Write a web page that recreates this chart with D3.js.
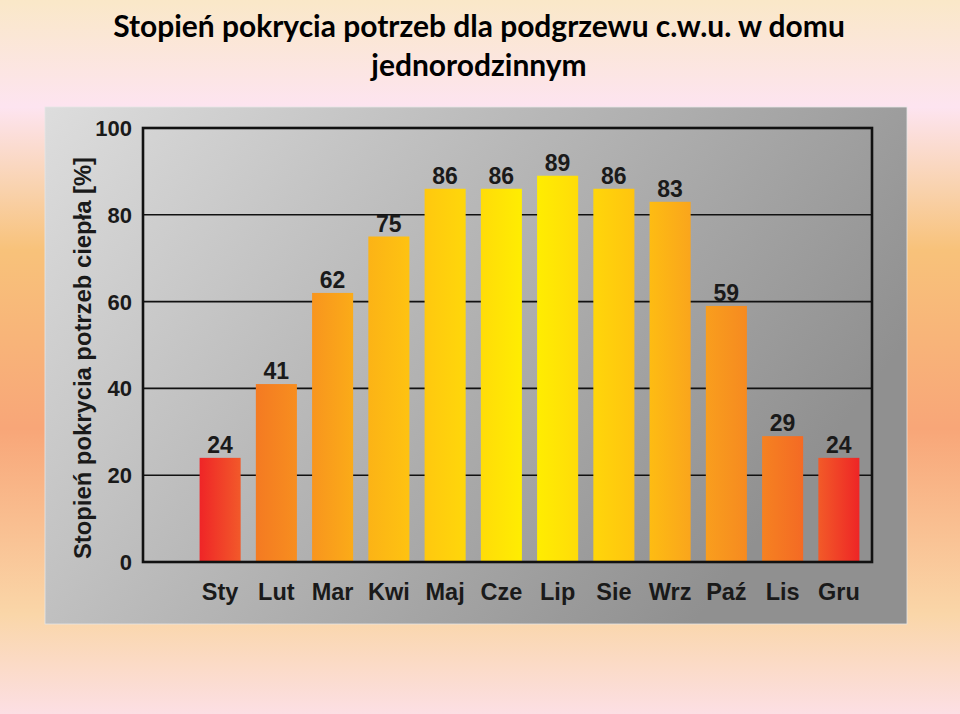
<!DOCTYPE html>
<html><head><meta charset="utf-8">
<script src="https://cdn.jsdelivr.net/npm/d3@7"></script>
<style>html,body{margin:0;padding:0;overflow:hidden;background:#fbe7c9}</style>
</head><body>
<script>
const months = ["Sty","Lut","Mar","Kwi","Maj","Cze","Lip","Sie","Wrz","Paź","Lis","Gru"];
const values = [24,41,62,75,86,86,89,86,83,59,29,24];
const yTicks = [0,20,40,60,80,100];
const gridTicks = [20,40,60,80];
const titleLines = ["Stopień pokrycia potrzeb dla podgrzewu c.w.u. w domu","jednorodzinnym"];
const yTitle = "Stopień pokrycia potrzeb ciepła [%]";

const W = 960, H = 714;
const svg = d3.select("body").append("svg").attr("width", W).attr("height", H);
const defs = svg.append("defs");

// page background
const bg = defs.append("linearGradient").attr("id","bg").attr("x1",0).attr("y1",0).attr("x2",0).attr("y2",1);
[[0,"#fae8c8"],[0.15,"#fde4f0"],[0.26,"#f9d3b0"],[0.35,"#f8c27a"],[0.6,"#f8a678"],[0.86,"#fad6a8"],[1,"#fcdfe4"]]
  .forEach(([o,c]) => bg.append("stop").attr("offset",o).attr("stop-color",c));
svg.append("rect").attr("width",W).attr("height",H).attr("fill","url(#bg)");

// gray panel
const pg = defs.append("linearGradient").attr("id","panel").attr("x1",0).attr("y1",0).attr("x2",1).attr("y2",0.45);
[[0,"#dddddd"],[0.5,"#b6b6b6"],[1,"#909090"]]
  .forEach(([o,c]) => pg.append("stop").attr("offset",o).attr("stop-color",c));
svg.append("rect").attr("x",45).attr("y",107).attr("width",862).attr("height",517)
  .attr("fill","url(#panel)").attr("stroke","#e6e6e6").attr("stroke-width",0.8);

// scales
const plot = {left:143, right:872, top:128, bottom:562};
const y = d3.scaleLinear().domain([0,100]).range([plot.bottom, plot.top]);
const x = d3.scaleBand().domain(months).range([192, 867]).paddingInner(0.27).paddingOuter(0.135);

// bar gradient (across all bars)
const x0 = x(months[0]), x1 = x(months[months.length-1]) + x.bandwidth();
const bgGrad = defs.append("linearGradient").attr("id","bars").attr("gradientUnits","userSpaceOnUse")
  .attr("x1",x0).attr("y1",0).attr("x2",x1).attr("y2",0);
[[0,"#ef2527"],[0.062,"#f2592a"],[0.085,"#f47a22"],[0.17,"#f8951e"],[0.255,"#fcb316"],[0.34,"#ffc80f"],[0.43,"#ffdd08"],[0.5,"#fff000"],
 [0.57,"#ffdd08"],[0.66,"#ffc40f"],[0.745,"#faa51c"],[0.83,"#f68a20"],[0.915,"#f46a24"],[0.938,"#f25a28"],[1,"#ee2526"]]
  .forEach(([o,c]) => bgGrad.append("stop").attr("offset",o).attr("stop-color",c));

// gridlines
svg.append("g").selectAll("line").data(gridTicks).join("line")
  .attr("x1",plot.left).attr("x2",plot.right).attr("y1",d=>y(d)).attr("y2",d=>y(d))
  .attr("stroke","#111").attr("stroke-width",1.6);

// bars
svg.append("g").selectAll("rect").data(values).join("rect")
  .attr("x",(d,i)=>x(months[i])).attr("width",x.bandwidth())
  .attr("y",d=>y(d)).attr("height",d=>y(0)-y(d))
  .attr("fill","url(#bars)");

// frame
svg.append("rect").attr("x",plot.left).attr("y",plot.top)
  .attr("width",plot.right-plot.left).attr("height",plot.bottom-plot.top)
  .attr("fill","none").attr("stroke","#111").attr("stroke-width",2.6);

const font = "'Liberation Sans', Arial, Helvetica, sans-serif";

// value labels
svg.append("g").selectAll("text").data(values).join("text")
  .attr("x",(d,i)=>x(months[i])+x.bandwidth()/2).attr("y",d=>y(d)-5)
  .attr("text-anchor","middle").attr("font-family",font).attr("font-weight","bold")
  .attr("font-size",23).attr("fill","#1a1a1a").text(d=>d);

// y axis tick labels
svg.append("g").selectAll("text").data(yTicks).join("text")
  .attr("x",132).attr("y",d=>y(d)).attr("dy","0.36em")
  .attr("text-anchor","end").attr("font-family",font).attr("font-weight","bold")
  .attr("font-size",22).attr("fill","#1a1a1a").text(d=>d);

// month labels
svg.append("g").selectAll("text").data(months).join("text")
  .attr("x",d=>x(d)+x.bandwidth()/2).attr("y",600)
  .attr("text-anchor","middle").attr("font-family",font).attr("font-weight","bold")
  .attr("font-size",23.5).attr("fill","#1a1a1a").text(d=>d);

// y title
svg.append("text").attr("transform","translate(91,358) rotate(-90)")
  .attr("text-anchor","middle").attr("font-family",font).attr("font-weight","bold")
  .attr("font-size",24).attr("fill","#1a1a1a")
  .attr("textLength",402).attr("lengthAdjust","spacingAndGlyphs").text(yTitle);

// title
const tfont = "Lato, 'Open Sans', sans-serif";
const targetW = 732;
const tY = [37, 76];
let fs = 28;
titleLines.forEach((t,i) => {
  const el = svg.append("text").attr("x",479).attr("y",tY[i]).attr("text-anchor","middle")
    .attr("font-family",tfont).attr("font-weight","bold").attr("font-size",28).attr("fill","#000").text(t);
  if (i===0) {
    const w = el.node().getComputedTextLength();
    fs = 28*targetW/w;
  }
  el.attr("font-size",fs);
});
</script>
</body></html>
